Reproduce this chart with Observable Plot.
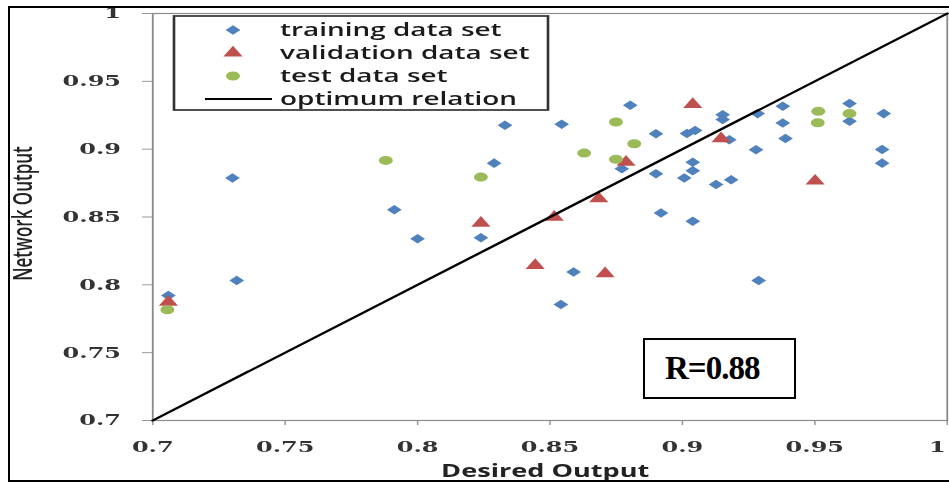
<!DOCTYPE html>
<html><head><meta charset="utf-8">
<script src="https://cdn.jsdelivr.net/npm/d3@7"></script>
<script src="https://cdn.jsdelivr.net/npm/@observablehq/plot@0.6"></script>
<style>
html,body{margin:0;padding:0;background:#fff;overflow:hidden;width:949px;height:483px}
#wrap{position:relative;width:949px;height:483px;overflow:hidden}
#chart{position:absolute;left:0;top:0;transform-origin:0 0}
#border{position:absolute;left:8px;top:6px;width:970px;height:476px;box-sizing:border-box;border:2px solid #000;pointer-events:none}
#rbox{position:absolute;left:643px;top:338px;width:153px;height:61px;box-sizing:border-box;border:2px solid #000;background:#fff;
  font:bold 33px "Liberation Serif",serif;color:#000;line-height:57px;padding-left:20px;letter-spacing:-1px}
</style></head>
<body><div id="wrap"><div id="chart"></div><div id="rbox">R=0.88</div><div id="border"></div></div>
<script>
// ---- data ----
const trainX = [0.7059,0.7301,0.7317,0.7912,0.8000,0.8239,0.8289,0.8330,0.8544,0.8589,0.8541,0.8803,0.8771,0.8900,0.8900,0.8919,0.9007,0.9017,0.9048,0.9039,0.9039,0.9039,0.9127,0.9184,0.9152,0.9152,0.9177,0.9284,0.9288,0.9278,0.9379,0.9379,0.9389,0.9631,0.9631,0.9760,0.9754,0.9754];
const trainY = [0.7922,0.8787,0.8032,0.8554,0.8340,0.8347,0.8897,0.9176,0.9183,0.8094,0.7855,0.9323,0.8856,0.9114,0.8819,0.8529,0.8787,0.9115,0.9137,0.8903,0.8841,0.8468,0.8740,0.8775,0.9254,0.9218,0.9070,0.9262,0.8032,0.8996,0.9316,0.9193,0.9078,0.9336,0.9205,0.9262,0.8997,0.8897];
const valX = [0.7059,0.8239,0.8444,0.8516,0.8684,0.8708,0.8787,0.9039,0.9146,0.9501];
const valY = [0.7872,0.8455,0.8143,0.8499,0.8635,0.8082,0.8905,0.9330,0.9077,0.8765];
const testX = [0.7055,0.7880,0.8239,0.8629,0.8749,0.8749,0.8818,0.9513,0.9511,0.9631];
const testY = [0.7816,0.8917,0.8794,0.8971,0.9200,0.8925,0.9040,0.9279,0.9195,0.9262];
const optX = [0.7, 1];
const optY = [0.7, 1];
const xTicks = [0.7,0.75,0.8,0.85,0.9,0.95,1];
const yTicks = [0.7,0.75,0.8,0.85,0.9,0.95,1];
const seriesNames = ["training data set","validation data set","test data set","optimum relation"];
const seriesColors = ["#4f81bd","#c0504d","#9bbb59","#000000"];
const xTitle = "Desired Output";
const yTitle = "Network Output";

// ---- layout ----
const S = 1.55;               // horizontal stretch of the original picture
const W = 949 / S;
const fmt = d => String(Math.round(d * 100) / 100);
const rDia = 4.3, rTri = 4.6, rCir = 4.5;

const plot = Plot.plot({
  width: W, height: 483,
  marginLeft: 152 / S, marginRight: 2.5 / S, marginTop: 13, marginBottom: 63,
  x: {domain: [0.7, 1], ticks: xTicks, tickFormat: fmt, tickSize: 5, tickPadding: 16, label: null},
  y: {domain: [0.7, 1], ticks: yTicks, tickFormat: fmt, tickSize: 10 / S, tickPadding: 14, label: null},
  style: {background: "transparent", fontFamily: "'DejaVu Serif', serif", fontSize: "16.5px", color: "#333", overflow: "visible"},
  marks: [
    Plot.frame({stroke: "#8c8c8c", strokeWidth: 1.2}),
    Plot.dot(trainX, {x: trainX, y: trainY, symbol: "diamond2", r: rDia, fill: seriesColors[0]}),
    Plot.dot(valX, {x: valX, y: valY, symbol: "triangle", r: rTri, fill: seriesColors[1]}),
    Plot.dot(testX, {x: testX, y: testY, symbol: "circle", r: rCir, fill: seriesColors[2]}),
    Plot.line(optX, {x: optX, y: optY, stroke: seriesColors[3], strokeWidth: 2.1})
  ]
});

// style axis ticks / labels
d3.select(plot).selectAll("g[aria-label^='x-axis'], g[aria-label^='y-axis']").each(function() {
  d3.select(this).selectAll("line, path").attr("stroke", "#999");
  d3.select(this).selectAll("text").attr("fill", "#333").attr("font-weight", "bold").attr("font-size", "15.5px");
});
// keep the last x tick label ("1") inside the picture
d3.select(plot).selectAll("g[aria-label^='x-axis'] text").filter(function() { return this.textContent.trim() === "1"; })
  .attr("text-anchor", "end").attr("dx", -1.5 / S);

const svg = d3.select(plot);
const xs = plot.scale("x"), ys = plot.scale("y");
const cx = (xs.range[0] + xs.range[1]) / 2;
const cy = (ys.range[0] + ys.range[1]) / 2;

// axis titles
svg.append("text").text(xTitle)
  .attr("x", cx - 4 / S).attr("y", 477)
  .attr("text-anchor", "middle")
  .attr("font-family", "'Open Sans', sans-serif").attr("font-weight", 700).attr("font-size", "17.5px").attr("fill", "#222");
svg.append("text").text(yTitle)
  .attr("transform", `translate(${32 / S},${cy - 3}) rotate(-90)`)
  .attr("text-anchor", "middle")
  .attr("font-family", "'Open Sans', sans-serif").attr("font-weight", 600).attr("font-size", "17px").attr("fill", "#222");

// legend
const lg = svg.append("g");
lg.append("rect").attr("x", 174 / S).attr("y", 16).attr("width", (548 - 174) / S).attr("height", 94)
  .attr("fill", "#fff").attr("stroke", "#333").attr("stroke-width", 1.7);
const rowY = [30, 53, 76, 99];
const symTypes = [d3.symbolDiamond2, d3.symbolTriangle, d3.symbolCircle];
const symR = [rDia, rTri, rCir];
seriesNames.forEach((name, i) => {
  if (i < 3) {
    lg.append("path").attr("d", d3.symbol(symTypes[i], Math.PI * symR[i] * symR[i])())
      .attr("transform", `translate(${233 / S},${rowY[i]})`).attr("fill", seriesColors[i]);
  } else {
    lg.append("line").attr("x1", 205 / S).attr("x2", 272 / S).attr("y1", rowY[i]).attr("y2", rowY[i])
      .attr("stroke", seriesColors[i]).attr("stroke-width", 2);
  }
  lg.append("text").text(name).attr("x", 280 / S).attr("y", rowY[i]).attr("dy", "0.33em")
    .attr("text-anchor", "start")
    .attr("font-family", "'Open Sans', sans-serif").attr("font-weight", 600).attr("font-size", "18px").attr("fill", "#1a1a1a");
});

const chart = document.getElementById("chart");
chart.appendChild(plot);
chart.style.transform = `scaleX(${S})`;
</script>
</body></html>
